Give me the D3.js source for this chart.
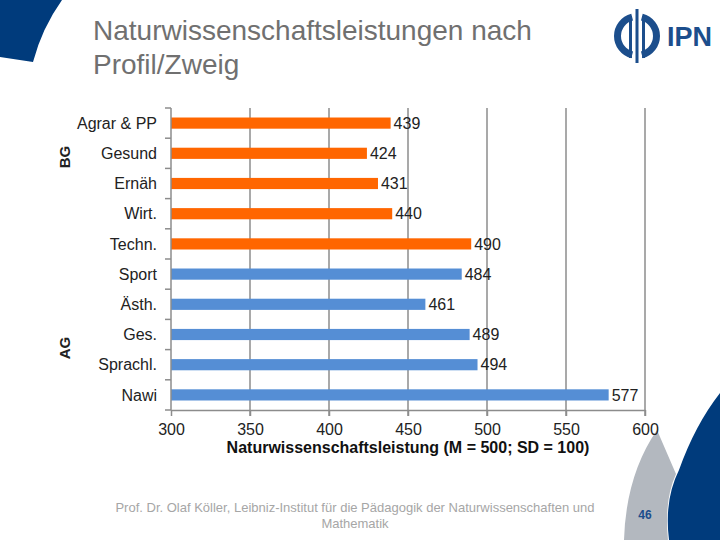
<!DOCTYPE html>
<html><head><meta charset="utf-8">
<script src="https://cdn.jsdelivr.net/npm/d3@7"></script>
<style>body{margin:0;background:#fff}svg{display:block;font-family:"Liberation Sans",Arial,sans-serif}</style>
</head><body>
<svg id="c" width="720" height="540"></svg>
<script>
const categories = ["Agrar & PP","Gesund","Ernäh","Wirt.","Techn.","Sport","Ästh.","Ges.","Sprachl.","Nawi"];
const values = [439,424,431,440,490,484,461,489,494,577];
const groups = ["BG","BG","BG","BG","BG","AG","AG","AG","AG","AG"];
const groupLabels = [{name:"BG", from:0, to:3},{name:"AG", from:5, to:9}];
const xTicks = [300,350,400,450,500,550,600];
const colors = {BG:"#FF6600", AG:"#558ED5"};

const svg = d3.select("#c");
const pLeft = 171, pRight = 645, pTop = 108, pBottom = 410;
const x = d3.scaleLinear().domain([300,600]).range([pLeft,pRight]);
const y = d3.scaleBand().domain(categories).range([pTop,pBottom]).paddingInner(0.63).paddingOuter(0.315);

// decorations
svg.append("path").attr("d","M0,0 L62,0 Q42,28 33,62 L0,57 Z").attr("fill","#003B7C");
svg.append("path").attr("d","M657,430 L676,474 Q664,500 668,540 L624,540 Q626,475 657,430 Z").attr("fill","#B3B8BF");
svg.append("path").attr("d","M720,393 L720,540 L669,540 Q664,500 679,470 Q695,425 720,393 Z").attr("fill","#003B7C");

// logo
const lg = svg.append("g").attr("fill","#1C4E8C");
const arc = d3.arc();
lg.append("path").attr("transform","translate(637,36)").attr("d",arc({innerRadius:16,outerRadius:23,startAngle:-Math.PI*0.92,endAngle:-Math.PI*0.08}));
lg.append("path").attr("transform","translate(637,36)").attr("d",arc({innerRadius:16,outerRadius:23,startAngle:Math.PI*0.08,endAngle:Math.PI*0.92}));
lg.append("rect").attr("x",629).attr("y",16).attr("width",3).attr("height",42);
lg.append("rect").attr("x",635.5).attr("y",9).attr("width",3).attr("height",54);
lg.append("rect").attr("x",642).attr("y",16).attr("width",3).attr("height",42);
lg.append("text").attr("x",667).attr("y",46).attr("font-size",27).attr("font-weight","bold").attr("fill","#1C4E8C").text("IPN");

// title
const t = svg.append("text").attr("x",93).attr("font-size",28).attr("fill","#707070");
t.append("tspan").attr("x",93).attr("y",40).text("Naturwissenschaftsleistungen nach");
t.append("tspan").attr("x",93).attr("y",74).text("Profil/Zweig");

// gridlines
svg.append("g").selectAll("line").data(xTicks.slice(1)).join("line")
  .attr("x1",d=>x(d)).attr("x2",d=>x(d)).attr("y1",pTop).attr("y2",pBottom+6)
  .attr("stroke","#8C8C8C").attr("stroke-width",1.5);

// bars
svg.append("g").selectAll("rect").data(categories).join("rect")
  .attr("x",pLeft).attr("y",d=>y(d)).attr("height",y.bandwidth())
  .attr("width",(d,i)=>x(values[i])-pLeft).attr("fill",(d,i)=>colors[groups[i]]);

svg.append("g").selectAll("text").data(categories).join("text")
  .attr("x",(d,i)=>x(values[i])+3).attr("y",d=>y(d)+y.bandwidth()/2).attr("dy","0.36em")
  .attr("font-size",16).attr("fill","#222").text((d,i)=>values[i]);

// y axis
const ya = svg.append("g");
ya.append("line").attr("x1",pLeft).attr("x2",pLeft).attr("y1",pTop).attr("y2",pBottom).attr("stroke","#8C8C8C").attr("stroke-width",1.5);
const bounds = d3.range(categories.length+1).map(i=>pTop+i*(pBottom-pTop)/categories.length);
ya.selectAll("line.t").data(bounds).join("line").attr("class","t")
  .attr("x1",pLeft-6).attr("x2",pLeft).attr("y1",d=>d).attr("y2",d=>d).attr("stroke","#8C8C8C").attr("stroke-width",1.5);
ya.selectAll("text").data(categories).join("text")
  .attr("x",157).attr("y",d=>y(d)+y.bandwidth()/2).attr("dy","0.36em").attr("text-anchor","end")
  .attr("font-size",16).attr("fill","#222").text(d=>d);

// x axis
const xa = svg.append("g").attr("transform",`translate(0,${pBottom})`)
  .call(d3.axisBottom(x).tickValues(xTicks).tickSize(6).tickSizeOuter(0));
xa.select(".domain").attr("stroke","#8C8C8C").attr("stroke-width",1.5);
xa.selectAll(".tick line").attr("stroke","#8C8C8C").attr("stroke-width",1.5);
xa.selectAll(".tick text").attr("font-size",16).attr("fill","#222").attr("font-family","Liberation Sans, Arial").attr("dy","1.0em");
svg.append("text").attr("x",(pLeft+pRight)/2).attr("y",453).attr("text-anchor","middle")
  .attr("font-size",16).attr("font-weight","bold").attr("fill","#111").text("Naturwissenschaftsleistung (M = 500; SD = 100)");

// group labels
groupLabels.forEach(g=>{
  const yc = g.name==="BG" ? 157 : 348;
  svg.append("text").attr("transform",`translate(70,${yc}) rotate(-90)`).attr("text-anchor","middle")
    .attr("font-size",15).attr("font-weight","bold").attr("fill","#222").text(g.name);
});

// footer
const f = svg.append("text").attr("text-anchor","middle").attr("font-size",13).attr("fill","#A6A6A6");
f.append("tspan").attr("x",355).attr("y",512).text("Prof. Dr. Olaf Köller, Leibniz-Institut für die Pädagogik der Naturwissenschaften und");
f.append("tspan").attr("x",355).attr("y",528).text("Mathematik");
svg.append("text").attr("x",645).attr("y",519).attr("text-anchor","middle").attr("font-size",12).attr("font-weight","bold").attr("fill","#1C4E8C").text("46");
</script>
</body></html>
